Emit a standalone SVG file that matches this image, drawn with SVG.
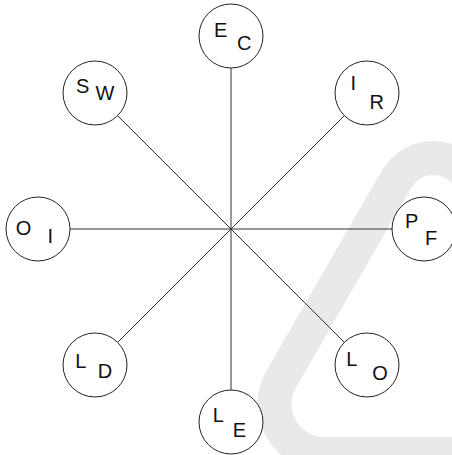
<svg xmlns="http://www.w3.org/2000/svg" width="452" height="455" viewBox="0 0 452 455">
<style>
.bg{fill:#ffffff}
.wm{fill:none;stroke:#e9e9e9;stroke-width:34;stroke-linejoin:round}
.edge{stroke:#333333;stroke-width:1;fill:none}
.node circle{fill:#ffffff;stroke:#222222;stroke-width:1}
.node text{font-family:"Liberation Sans",Arial,sans-serif;font-size:20px;fill:#111111}
</style>
<rect class="bg" x="0" y="0" width="452" height="455"/>
<path class="wm" d="M 508 246 L 469.4 179 A 42 42 0 0 0 396.6 179 L 281.3 379 A 50 50 0 0 0 324.6 454 L 520 454"/>
<g id="connectors">
<line class="edge" x1="231" y1="229" x2="231" y2="68"/>
<line class="edge" x1="231" y1="229" x2="344.4" y2="115.6"/>
<line class="edge" x1="231" y1="229" x2="392" y2="229"/>
<line class="edge" x1="231" y1="229" x2="344.4" y2="342.4"/>
<line class="edge" x1="231" y1="229" x2="231" y2="390"/>
<line class="edge" x1="231" y1="229" x2="117.6" y2="342.4"/>
<line class="edge" x1="231" y1="229" x2="70" y2="229"/>
<line class="edge" x1="231" y1="229" x2="117.6" y2="115.6"/>
</g>
<g id="node-EC" class="node"><circle cx="231" cy="36" r="32"/><text x="214" y="37">E</text><text x="237" y="50">C</text></g>
<g id="node-IR" class="node"><circle cx="367" cy="93" r="32"/><text x="350.4" y="90">I</text><text x="369.4" y="109.3">R</text></g>
<g id="node-PF" class="node"><circle cx="424" cy="229" r="32"/><text x="405" y="228.3">P</text><text x="425" y="245">F</text></g>
<g id="node-LO" class="node"><circle cx="367" cy="365" r="32"/><text x="346.2" y="365.7">L</text><text x="372.3" y="379.5">O</text></g>
<g id="node-LE" class="node"><circle cx="231" cy="422" r="32"/><text x="212.8" y="422.3">L</text><text x="232.7" y="436.7">E</text></g>
<g id="node-LD" class="node"><circle cx="95" cy="365" r="32"/><text x="75.2" y="368.3">L</text><text x="97.7" y="377.7">D</text></g>
<g id="node-OI" class="node"><circle cx="38" cy="229" r="32"/><text x="15.7" y="234.5">O</text><text x="47.4" y="242.7">I</text></g>
<g id="node-SW" class="node"><circle cx="95" cy="93" r="32"/><text x="76" y="92.5">S</text><text x="95.5" y="99.5">W</text></g>
</svg>
